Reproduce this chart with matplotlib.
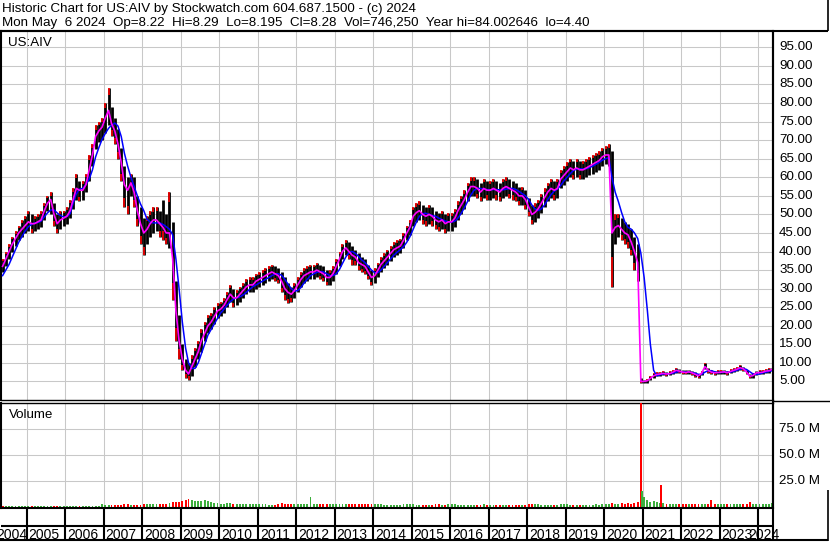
import matplotlib
matplotlib.use("Agg")
import matplotlib.pyplot as plt
from matplotlib import transforms
import pandas as pd

W, H = 830, 543
plt.rcParams['font.family'] = ['Liberation Sans', 'DejaVu Sans']
plt.rcParams['font.size'] = 9.6

# monthly values, May 2004 .. May 2024 (one row per year)
close = [
    36, 38, 40, 42, 43.5, 45, 46, 47,
    48, 47.5, 47.5, 48, 48.5, 51, 53, 54, 50, 47.5, 48.5, 49,
    49.5, 51, 54, 57, 56.5, 56.5, 58, 62, 66, 71, 72.5, 73.5,
    76, 78, 74.5, 72.5, 69, 64, 58, 56.5, 58.5, 56, 51, 47.5,
    45, 46, 47.5, 48.5, 48.5, 47.5, 46.5, 45, 45, 38, 24, 16,
    11, 8, 7, 9, 11, 13, 16, 18, 20, 21, 22.5, 24,
    24.5, 25.5, 27, 28.5, 27.5, 27.5, 28.5, 29.5, 30.5, 31, 31, 32,
    32.5, 33, 33.5, 34, 34.5, 34, 33.5, 32, 30, 29, 28.5, 29.5,
    31, 32.5, 33.5, 34, 34.5, 34.5, 35, 34.5, 34, 33, 33, 34,
    36, 38, 40, 41, 40, 39, 38.5, 37, 36.5, 36, 34.5, 33,
    33.5, 35, 36.5, 37.5, 38.5, 39.5, 40.5, 41, 41.5, 43, 45, 46.5,
    49.5, 50.5, 51, 50, 49.5, 50, 49.5, 48.5, 48, 48.5, 47.5, 48,
    48, 49, 51, 52.5, 54, 56, 57.5, 57.5, 57, 56, 57, 56.5,
    56.5, 57, 56.5, 56, 57, 57.5, 57, 56.5, 56, 55, 55, 54,
    52, 50, 50.5, 51.5, 53, 54.5, 56, 57, 56.5, 57, 59.5, 60.5,
    61.5, 62.5, 62, 62.5, 62, 62, 62.5, 63, 63.5, 64, 64.5, 65.5,
    66, 66, 45, 46.5, 47, 46, 45, 44.5, 42.5, 40, 37, 5,
    5, 5.2, 5.8, 6.5, 6.9, 7, 7.2, 7.0, 7.1, 7.5, 8, 7.8,
    7.5, 7.4, 7.6, 7.3, 6.9, 6.5, 7.2, 9.0, 8.0, 7.5, 7.3, 7.4,
    7.5, 7.6, 7.3, 7.7, 8, 8.3, 8.7, 8.4, 7.5, 6.4, 6.6, 7.3,
    7.4, 7.5, 7.8, 7.9, 8.28,
]
high = [
    38, 40, 42, 44, 45.5, 47, 48.5, 49.5,
    51, 50, 49.5, 50, 51, 53, 55, 56, 53, 50, 51, 51,
    52, 54, 57, 61, 59, 59, 61, 66, 69, 74, 75, 76,
    80, 84, 79, 76, 73, 68, 63, 60, 61, 60, 55, 52,
    49, 49.5, 51, 52, 52, 51, 54, 50, 56, 48, 32, 23,
    15, 11, 10, 12, 14, 16, 19, 21, 23, 23.5, 25, 26,
    26.5, 27.5, 29, 31, 30, 29.5, 30.5, 31.5, 32.5, 33, 33, 34,
    34.5, 35, 35.5, 36, 36.5, 36, 35.5, 34.5, 33, 31.5, 30.5, 31.5,
    33, 34.5, 35.5, 36, 36.5, 36.5, 37, 36.5, 36, 35, 35, 36,
    38, 40, 42, 43, 42.5, 41.5, 40.5, 39.5, 38.5, 38, 36.5, 35,
    35.5, 37, 38.5, 39.5, 40.5, 41.5, 42.5, 43, 43.5, 45, 47, 48.5,
    52, 53, 53.5, 52.5, 52, 52.5, 52, 51, 50.5, 51, 50, 50.5,
    50.5, 51.5, 53.5, 55, 56.5, 58.5, 60, 60, 59.5, 58.5, 59.5, 59,
    59, 59.5, 59, 58.5, 59.5, 60, 59.5, 59, 58.5, 57.5, 57.5, 56.5,
    54.5, 52.5, 53, 54, 55.5, 57, 58.5, 59.5, 59, 59.5, 62, 63,
    64, 65, 64.5, 65, 64.5, 64.5, 65, 65.5, 66, 66.5, 67, 68,
    68.5, 69, 67, 50, 50, 49, 48, 47.5, 46, 44, 42, 6,
    5.5, 5.7, 6.4, 7.2, 7.5, 7.6, 7.8, 7.6, 7.7, 8.1, 8.6, 8.4,
    8.1, 8.0, 8.2, 7.9, 7.5, 7.1, 7.8, 10.0, 8.7, 8.1, 7.9, 8.0,
    8.1, 8.2, 7.9, 8.3, 8.6, 8.9, 9.3, 9.0, 8.1, 7.0, 7.2, 7.9,
    8.0, 8.1, 8.4, 8.5, 8.6,
]
low = [
    34.5, 36, 38, 40, 41.5, 43, 44, 45,
    45.5, 45, 45.5, 46, 46.5, 48.5, 51, 50, 47, 45, 46, 47,
    47.5, 49, 51.5, 54, 53.5, 54, 56, 59, 63, 67.5, 69.5, 70,
    72, 74, 71, 69, 65, 59, 52, 50, 55, 52, 47, 42,
    39, 42, 44, 45, 45.5, 44, 43, 42, 41, 27, 16, 11,
    8, 6, 5.5, 6.5, 9, 11, 13, 16, 18, 19, 20.5, 22,
    22.5, 23.5, 25, 26.5, 25, 25.5, 26.5, 27.5, 28.5, 29, 29, 30,
    30.5, 31, 31.5, 32, 32.5, 32, 31.5, 29, 27, 26, 26.5, 27.5,
    29, 30.5, 31.5, 32, 32.5, 32.5, 33, 32.5, 32, 31, 31, 32,
    34, 36, 38, 39, 38, 36.5, 36.5, 35, 34.5, 34, 32.5, 31,
    31.5, 33, 34.5, 35.5, 36.5, 37.5, 38.5, 39, 39.5, 41, 43, 44.5,
    47, 48, 48.5, 47.5, 47, 47.5, 47, 46, 45.5, 46, 45, 45.5,
    45.5, 46.5, 48.5, 50, 51.5, 53.5, 55, 55, 54.5, 53.5, 54.5, 54,
    54, 54.5, 54, 53.5, 54.5, 55, 54.5, 54, 53.5, 52.5, 52.5, 51.5,
    49.5, 47.5, 48, 49, 50.5, 52, 53.5, 54.5, 54, 54.5, 57, 58,
    59, 60, 59.5, 60, 59.5, 59.5, 60, 60.5, 61, 61.5, 62, 63,
    63.5, 63, 30.5, 42, 44, 43, 42, 41, 39, 35, 32, 4.6,
    4.5, 4.7, 5.3, 6.0, 6.4, 6.5, 6.7, 6.5, 6.6, 7.0, 7.4, 7.2,
    7.0, 6.9, 7.1, 6.8, 6.3, 5.9, 6.7, 8.3, 7.4, 7.0, 6.8, 6.9,
    7.0, 7.1, 6.8, 7.2, 7.5, 7.8, 8.2, 7.9, 6.9, 5.8, 6.0, 6.8,
    6.9, 7.0, 7.3, 7.4, 8.0,
]
ma_long = [
    33.5, 35, 36.5, 38.5, 40.5, 42.5, 44, 45.5,
    46.7, 47.3, 47.7, 47.8, 48.2, 49.3, 50.4, 51.2, 51.2, 50.4, 49.7, 49.3,
    49.4, 50.2, 53, 55.5, 56.8, 57, 58, 59.5, 62, 65.5, 68, 70.2,
    71.8, 73.2, 74, 74.6, 73.8, 71, 66.5, 63, 60, 57.5, 55, 52.8,
    51, 48.7, 48, 47.7, 47.7, 47.7, 47.3, 46.7, 46, 44.5, 38, 30,
    21, 14, 10, 8.5, 8.5, 10, 12.5, 15, 17.5, 19, 20.5, 22,
    23.5, 24.5, 25.5, 26.5, 27.2, 27.6, 27.8, 28.3, 29, 29.8, 30.5, 31,
    31.5, 32, 32.5, 33, 33.5, 34, 34, 33.6, 32.5, 31.2, 30, 29.3,
    29.5, 30.3, 31.5, 32.5, 33.5, 34, 34.4, 34.6, 34.5, 34, 33.5, 33.5,
    34, 35.2, 36.8, 38.5, 39.7, 40, 39.5, 38.7, 37.7, 37, 36, 35,
    34.3, 34.3, 35, 36, 37, 38, 39, 39.8, 40.5, 41.3, 42.5, 44,
    46, 48, 49.5, 50.2, 50.3, 50, 49.7, 49.5, 49, 48.6, 48.2, 48,
    47.9, 48.2, 49, 50.3, 51.8, 53.5, 55.2, 56.5, 57, 57, 56.8, 56.7,
    56.6, 56.7, 56.7, 56.6, 56.6, 56.8, 57, 57, 56.7, 56.2, 55.6, 55,
    54, 52.5, 51.5, 51, 51.5, 52.5, 54, 55.3, 56.3, 56.8, 57.8, 59,
    60, 61, 61.8, 62.2, 62.3, 62.2, 62.3, 62.6, 63, 63.5, 64, 64.6,
    65, 65.3, 60, 56, 53.5, 50.5, 48, 46.5, 46, 45, 43.5, 39.5,
    33, 24, 15, 8, 6.5, 6.8, 7, 7.1, 7.1, 7.2, 7.5, 7.7,
    7.6, 7.5, 7.5, 7.4, 7.2, 6.9, 6.9, 7.5, 7.9, 7.9, 7.6, 7.4,
    7.4, 7.5, 7.5, 7.5, 7.7, 8, 8.3, 8.5, 8.2, 7.6, 7.0, 6.9,
    7.0, 7.3, 7.5, 7.7, 7.9,
]
# volume in millions (tallest daily bar seen in each month)
volume = [
    0.8, 0.5, 0.8, 0.5, 0.8, 0.5, 0.8, 0.5,
    1, 0.8, 1, 0.8, 1, 1.2, 0.8, 1, 1.2, 1, 0.8, 1,
    1, 0.8, 1, 1.2, 1, 1, 0.8, 1, 1, 1.2, 1, 2.5,
    2, 1.5, 2, 1.5, 1.5, 2, 2.5, 2.5, 2, 1.5, 2, 2,
    2.5, 2.5, 3, 2.5, 2.5, 2.5, 3, 3, 4, 5, 5, 5,
    6, 7, 7.5, 6.5, 6, 5.5, 6, 7, 5.5, 4.5, 4, 3.5,
    3, 3, 3.5, 3.5, 3, 3, 2.5, 2.5, 2.5, 2.5, 2.5, 2.5,
    2.5, 2.5, 2.5, 2, 2, 2, 2.5, 3.5, 3, 3, 2.5, 2.5,
    3, 2.5, 2.5, 2.5, 10, 2.5, 2.5, 2.5, 2.5, 2.5, 2.5, 2.5,
    2.5, 3, 3, 2.5, 3, 3, 2.5, 2.5, 2.5, 2.5, 2.5, 3,
    3, 2.5, 2.5, 2, 2, 2, 2, 2, 2, 2.5, 2.5, 2.5,
    2.5, 2, 2, 2, 2, 2, 2, 2.5, 2.5, 2, 2, 2.5,
    2.5, 2.5, 2, 2, 2, 2, 2, 2, 2, 2, 2.5, 2,
    2, 2, 2, 2, 2, 2, 2, 2, 2, 2, 2, 2,
    3, 3, 2.5, 2.5, 2, 2, 2, 2, 2, 2, 2.5, 2.5,
    2.5, 2, 2, 2, 2, 2, 2, 2, 2, 2.5, 2, 2.5,
    3, 3, 4, 3, 3, 3.5, 3, 3.5, 3, 4, 5, 6,
    8, 7, 5, 6, 5, 4, 3.5, 3, 3, 3, 3, 3,
    3, 2.5, 3, 3, 2.5, 3, 3, 3, 2.5, 7, 3, 3,
    2.5, 2.5, 3, 2.5, 2.5, 3, 3, 2.5, 3, 5, 3, 3,
    3, 2.5, 3, 3, 4,
]
spike_dates = ["2020-12-14", "2020-12-18", "2020-12-24", "2021-01-12", "2021-06-25"]
spike_vol = [105, 40, 15, 10, 21]
spike_up = [False, False, True, True, False]

price_ticks = [5, 10, 15, 20, 25, 30, 35, 40, 45, 50, 55, 60, 65, 70, 75, 80, 85, 90, 95]
vol_ticks = [25, 50, 75]
years = list(range(2004, 2025))

header1 = "Historic Chart for US:AIV by Stockwatch.com 604.687.1500 - (c) 2024"
header2 = ("Mon May  6 2024  Op=8.22  Hi=8.29  Lo=8.195  Cl=8.28  "
           "Vol=746,250  Year hi=84.002646  lo=4.40")

months = (pd.date_range("2004-05-01", "2024-05-01", freq="MS")
          + pd.Timedelta(days=14)).to_pydatetime()
spikes = pd.to_datetime(spike_dates).to_pydatetime()
year_starts = [pd.Timestamp(f"{y}-01-01").to_pydatetime() for y in years]
x_start = pd.Timestamp("2004-04-30").to_pydatetime()
x_end = pd.Timestamp("2024-05-22").to_pydatetime()

GRID = "#c8c8c8"
GREEN = "#3cae3c"


def box(l, t, r, b):
    # pixel box (top-left origin) -> figure fraction
    return [l / W, 1 - b / H, (r - l) / W, (b - t) / H]


fig = plt.figure(figsize=(W / 100, H / 100), dpi=100)
fig.patch.set_facecolor("white")
ax_p = fig.add_axes(box(1, 31, 773, 400))
ax_v = fig.add_axes(box(1, 403, 773, 508), sharex=ax_p)
ax_s = fig.add_axes(box(1, 508, 773, 540), sharex=ax_p)

for ax in (ax_p, ax_v):
    ax.set_xticks(year_starts[1:])
    ax.grid(True, color=GRID, lw=0.75)
    ax.set_axisbelow(True)
    ax.tick_params(length=0, labelbottom=False, labelleft=False)
    for s in ax.spines.values():
        s.set_linewidth(1.5)
ax_p.spines["bottom"].set_linewidth(1.0)
ax_v.spines["top"].set_linewidth(1.0)
ax_p.set_xlim(x_start, x_end)

# ---- price panel ----
ax_p.set_ylim(0, 99.4)
ax_p.set_yticks(price_ticks)
ax_p.vlines(months, low, high, color="black", lw=2.0, zorder=2)
red_x, red_lo, red_hi = [], [], []
for i in range(len(close)):
    rng = high[i] - low[i]
    prev = close[i - 1] if i else close[i]
    red_x.append(months[i])
    if close[i] < prev:
        red_lo.append(low[i]); red_hi.append(low[i] + 0.22 * rng)
    else:
        red_lo.append(high[i] - 0.18 * rng); red_hi.append(high[i])
ax_p.vlines(red_x, red_lo, red_hi, color="#ff0000", lw=1.2, zorder=3)
ax_p.plot(months, ma_long, color="#0000ff", lw=1.1, zorder=4)
ax_p.plot(months, close, color="#ff00ff", lw=1.2, zorder=5)

ptrans = transforms.offset_copy(ax_p.get_yaxis_transform(), fig=fig, x=6, y=0, units="dots")
for p in price_ticks:
    ax_p.text(1, p, f"{p:.2f}", transform=ptrans, ha="left", va="center", clip_on=False)

# ---- volume panel ----
ax_v.set_ylim(-1, 100.4)
ax_v.set_yticks(vol_ticks)
vcol = [GREEN if (i and close[i] >= close[i - 1]) else "#ff0000" for i in range(len(close))]
ax_v.bar(months, volume, width=18, color=vcol, zorder=2)
ax_v.bar(spikes, spike_vol, width=14,
         color=[GREEN if u else "#ff0000" for u in spike_up], zorder=3)
vtrans = transforms.offset_copy(ax_v.get_yaxis_transform(), fig=fig, x=6, y=0, units="dots")
for v in vol_ticks:
    ax_v.text(1, v, f"{v:.1f} M", transform=vtrans, ha="left", va="center", clip_on=False)

# ---- year strip ----
ax_s.set_ylim(0, 32)
ax_s.axis("off")
ax_s.vlines(year_starts[1:], 0, 32, color="black", lw=1.5)
ax_s.axhline(14, color="black", lw=1.5)
ltrans = transforms.offset_copy(ax_s.transData, fig=fig, x=-2, y=0, units="dots")
for y in years:
    s = max(pd.Timestamp(f"{y}-01-01"), pd.Timestamp(x_start))
    e = min(pd.Timestamp(f"{y + 1}-01-01"), pd.Timestamp(x_end))
    mid = (s + (e - s) / 2).to_pydatetime()
    ax_s.text(mid, 1.3, str(y), transform=ltrans, ha="center", va="baseline",
              fontsize=10, clip_on=False)

# ---- frame lines and header (pixel overlay) ----
ax_o = fig.add_axes([0, 0, 1, 1])
ax_o.set_xlim(0, W)
ax_o.set_ylim(H, 0)
ax_o.axis("off")
ax_o.patch.set_alpha(0)
k = dict(color="black", solid_capstyle="butt")
ax_o.plot([0, 828], [30.5, 30.5], lw=1.5, **k)
ax_o.plot([828, 828], [0, 31], lw=1.2, **k)
ax_o.plot([773, 830], [400.5, 400.5], lw=1.0, **k)
ax_o.plot([773, 773], [30, 541], lw=1.5, **k)
ax_o.plot([0, 828], [540, 540], lw=1.5, **k)
ax_o.plot([828, 828], [490, 541], lw=1.2, **k)

ax_o.text(2, 12, header1, va="baseline", ha="left")
ax_o.text(2, 26, header2, va="baseline", ha="left")
ax_o.text(8, 46.5, "US:AIV", va="baseline", ha="left")
ax_o.text(9, 418, "Volume", va="baseline", ha="left")

fig.savefig("out.png", dpi=100)
